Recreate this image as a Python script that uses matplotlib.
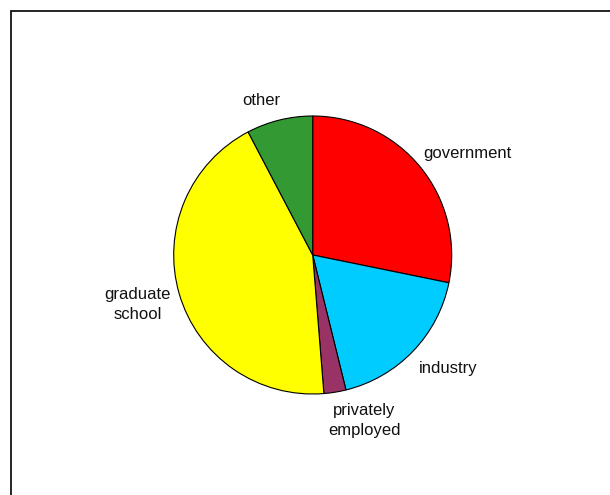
import matplotlib.pyplot as plt
from matplotlib.patches import Rectangle

# данные диаграммы (по часовой стрелке, начиная сверху)
categories = ["government", "industry", "privately\nemployed", "graduate\nschool", "other"]
counts = [11, 7, 1, 17, 3]
colors = ["#FF0000", "#00CCFF", "#993366", "#FFFF00", "#339933"]

# положение подписей (центр текста, в радиусах пирога)
label_xy = [(1.115, 0.73), (0.978, -0.82), (0.37, -1.19), (-1.26, -0.355), (-0.37, 1.11)]

plt.rcParams['font.family'] = ['Liberation Sans', 'DejaVu Sans']

fig = plt.figure(figsize=(6.1, 4.95), dpi=100)
ax = fig.add_axes([0, 0, 1, 1])

wedges, _ = ax.pie(counts, colors=colors, startangle=90, counterclock=False,
                   wedgeprops=dict(edgecolor='black', linewidth=0.8))

for name, (x, y) in zip(categories, label_xy):
    ax.text(x, y, name, ha='center', va='center', fontsize=12,
            color='#111111', linespacing=1.45)

# масштаб: радиус 139 px, центр в (312.7, 255) px
r = 139.0
cx, cy = 312.7, 495 - 255
ax.set_xlim(-cx / r, (610 - cx) / r)
ax.set_ylim(-cy / r, (495 - cy) / r)
ax.set_aspect('auto')
ax.axis('off')

# рамка (видны только левая и верхняя стороны)
fig.patches.append(Rectangle((10.5 / 610, -0.1), 1.2, (495 - 11) / 495 + 0.1,
                             transform=fig.transFigure, fill=False,
                             edgecolor='black', linewidth=1.2))

fig.savefig('out.png', dpi=100, facecolor='white')
